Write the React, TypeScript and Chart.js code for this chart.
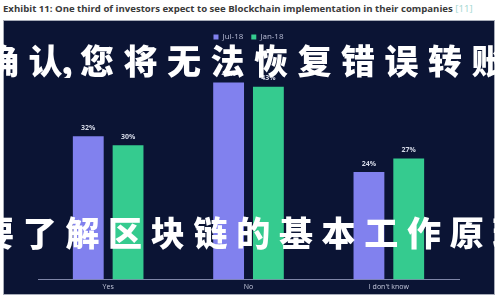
import React, { useEffect, useRef } from "react";
import { Chart, registerables } from "chart.js";

Chart.register(...registerables);

const categories = ["Yes", "No", "I don't know"];
const seriesNames = ["Jul-18", "Jan-18"];
const jul18 = [32, 44, 24];
const jan18 = [30, 43, 27];
const titleText = "Exhibit 11: One third of investors expect to see Blockchain implementation in their companies";
const titleRef = "[11]";
const overlayTopA = "确认";
const overlayTopComma = ",";
const overlayTopB = "您将无法恢复错误转账。";
const overlayBottom = "要了解区块链的基本工作原理";

const valueLabels = {
  id: "valueLabels",
  afterDatasetsDraw(chart: any) {
    const ctx = chart.ctx;
    ctx.save();
    ctx.font = "bold 7px 'Open Sans', sans-serif";
    ctx.fillStyle = "#d4d8e6";
    ctx.textAlign = "center";
    ctx.textBaseline = "bottom";
    chart.data.datasets.forEach((ds: any, i: number) => {
      const meta = chart.getDatasetMeta(i);
      meta.data.forEach((el: any, j: number) => {
        ctx.fillText(ds.data[j] + "%", el.x, el.y - 5);
      });
    });
    ctx.restore();
  },
};

export default function App() {
  const ref = useRef<HTMLCanvasElement>(null);
  useEffect(() => {
    if (!ref.current) return;
    const chart = new Chart(ref.current, {
      type: "bar",
      data: {
        labels: categories,
        datasets: [
          { label: seriesNames[0], data: jul18, backgroundColor: "#8181ee" },
          { label: seriesNames[1], data: jan18, backgroundColor: "#35cb8f" },
        ],
      },
      options: {
        animation: false,
        responsive: false,
        maintainAspectRatio: false,
        layout: { padding: { left: 34, right: 35, top: 4, bottom: 0 } },
        datasets: { bar: { categoryPercentage: 0.567, barPercentage: 0.775 } },
        plugins: {
          legend: {
            display: true,
            position: "top",
            labels: {
              color: "#b8bcd4",
              font: { size: 8, family: "'Open Sans', sans-serif" },
              boxWidth: 5,
              boxHeight: 5,
              padding: 8,
            },
          },
          tooltip: { enabled: false },
          title: { display: false },
        },
        scales: {
          x: {
            grid: { display: false, drawTicks: false },
            border: { display: true, color: "#7f86a8", width: 1 },
            ticks: { color: "#c4c8dc", font: { size: 7, family: "'Open Sans', sans-serif" }, padding: 3 },
          },
          y: { display: false, min: 0, max: 51 },
        },
      },
      plugins: [valueLabels],
    });
    return () => chart.destroy();
  }, []);

  const overlayStyle: React.CSSProperties = {
    position: "absolute",
    left: 0,
    width: 500,
    overflow: "hidden",
    whiteSpace: "nowrap",
    color: "#ffffff",
    fontFamily: "'Noto Sans CJK SC', sans-serif",
    fontWeight: 900,
    fontSize: 34,
    lineHeight: "36px",
    pointerEvents: "none",
  };

  return (
    <div style={{ position: "fixed", left: 0, top: 0, width: 500, height: 300, background: "#ffffff", overflow: "hidden" }}>
      <div
        style={{
          position: "absolute",
          left: 3,
          top: 3,
          fontFamily: "'Open Sans', sans-serif",
          fontWeight: 700,
          fontSize: 9.6,
          color: "#3a3a3a",
          whiteSpace: "nowrap",
          lineHeight: "12px",
        }}
      >
        {titleText} <span style={{ color: "#9fd6cf", fontWeight: 400 }}>{titleRef}</span>
      </div>
      <div
        style={{
          position: "absolute",
          left: 3,
          top: 20,
          width: 490,
          height: 273,
          background: "#0b1434",
          border: "1px solid #a7acb8",
        }}
      >
        <canvas ref={ref} width={490} height={273} style={{ display: "block" }} />
      </div>
      <div style={{ ...overlayStyle, top: 42, letterSpacing: 9.5 }}>
        <span style={{ marginLeft: -15, marginRight: -11 }}>{overlayTopA}</span>
        <span style={{ letterSpacing: 7 }}>{overlayTopComma}</span>
        <span>{overlayTopB}</span>
      </div>
      <div style={{ ...overlayStyle, top: 214, letterSpacing: 8.7 }}>
        <span style={{ marginLeft: -20 }}>{overlayBottom}</span>
      </div>
    </div>
  );
}
